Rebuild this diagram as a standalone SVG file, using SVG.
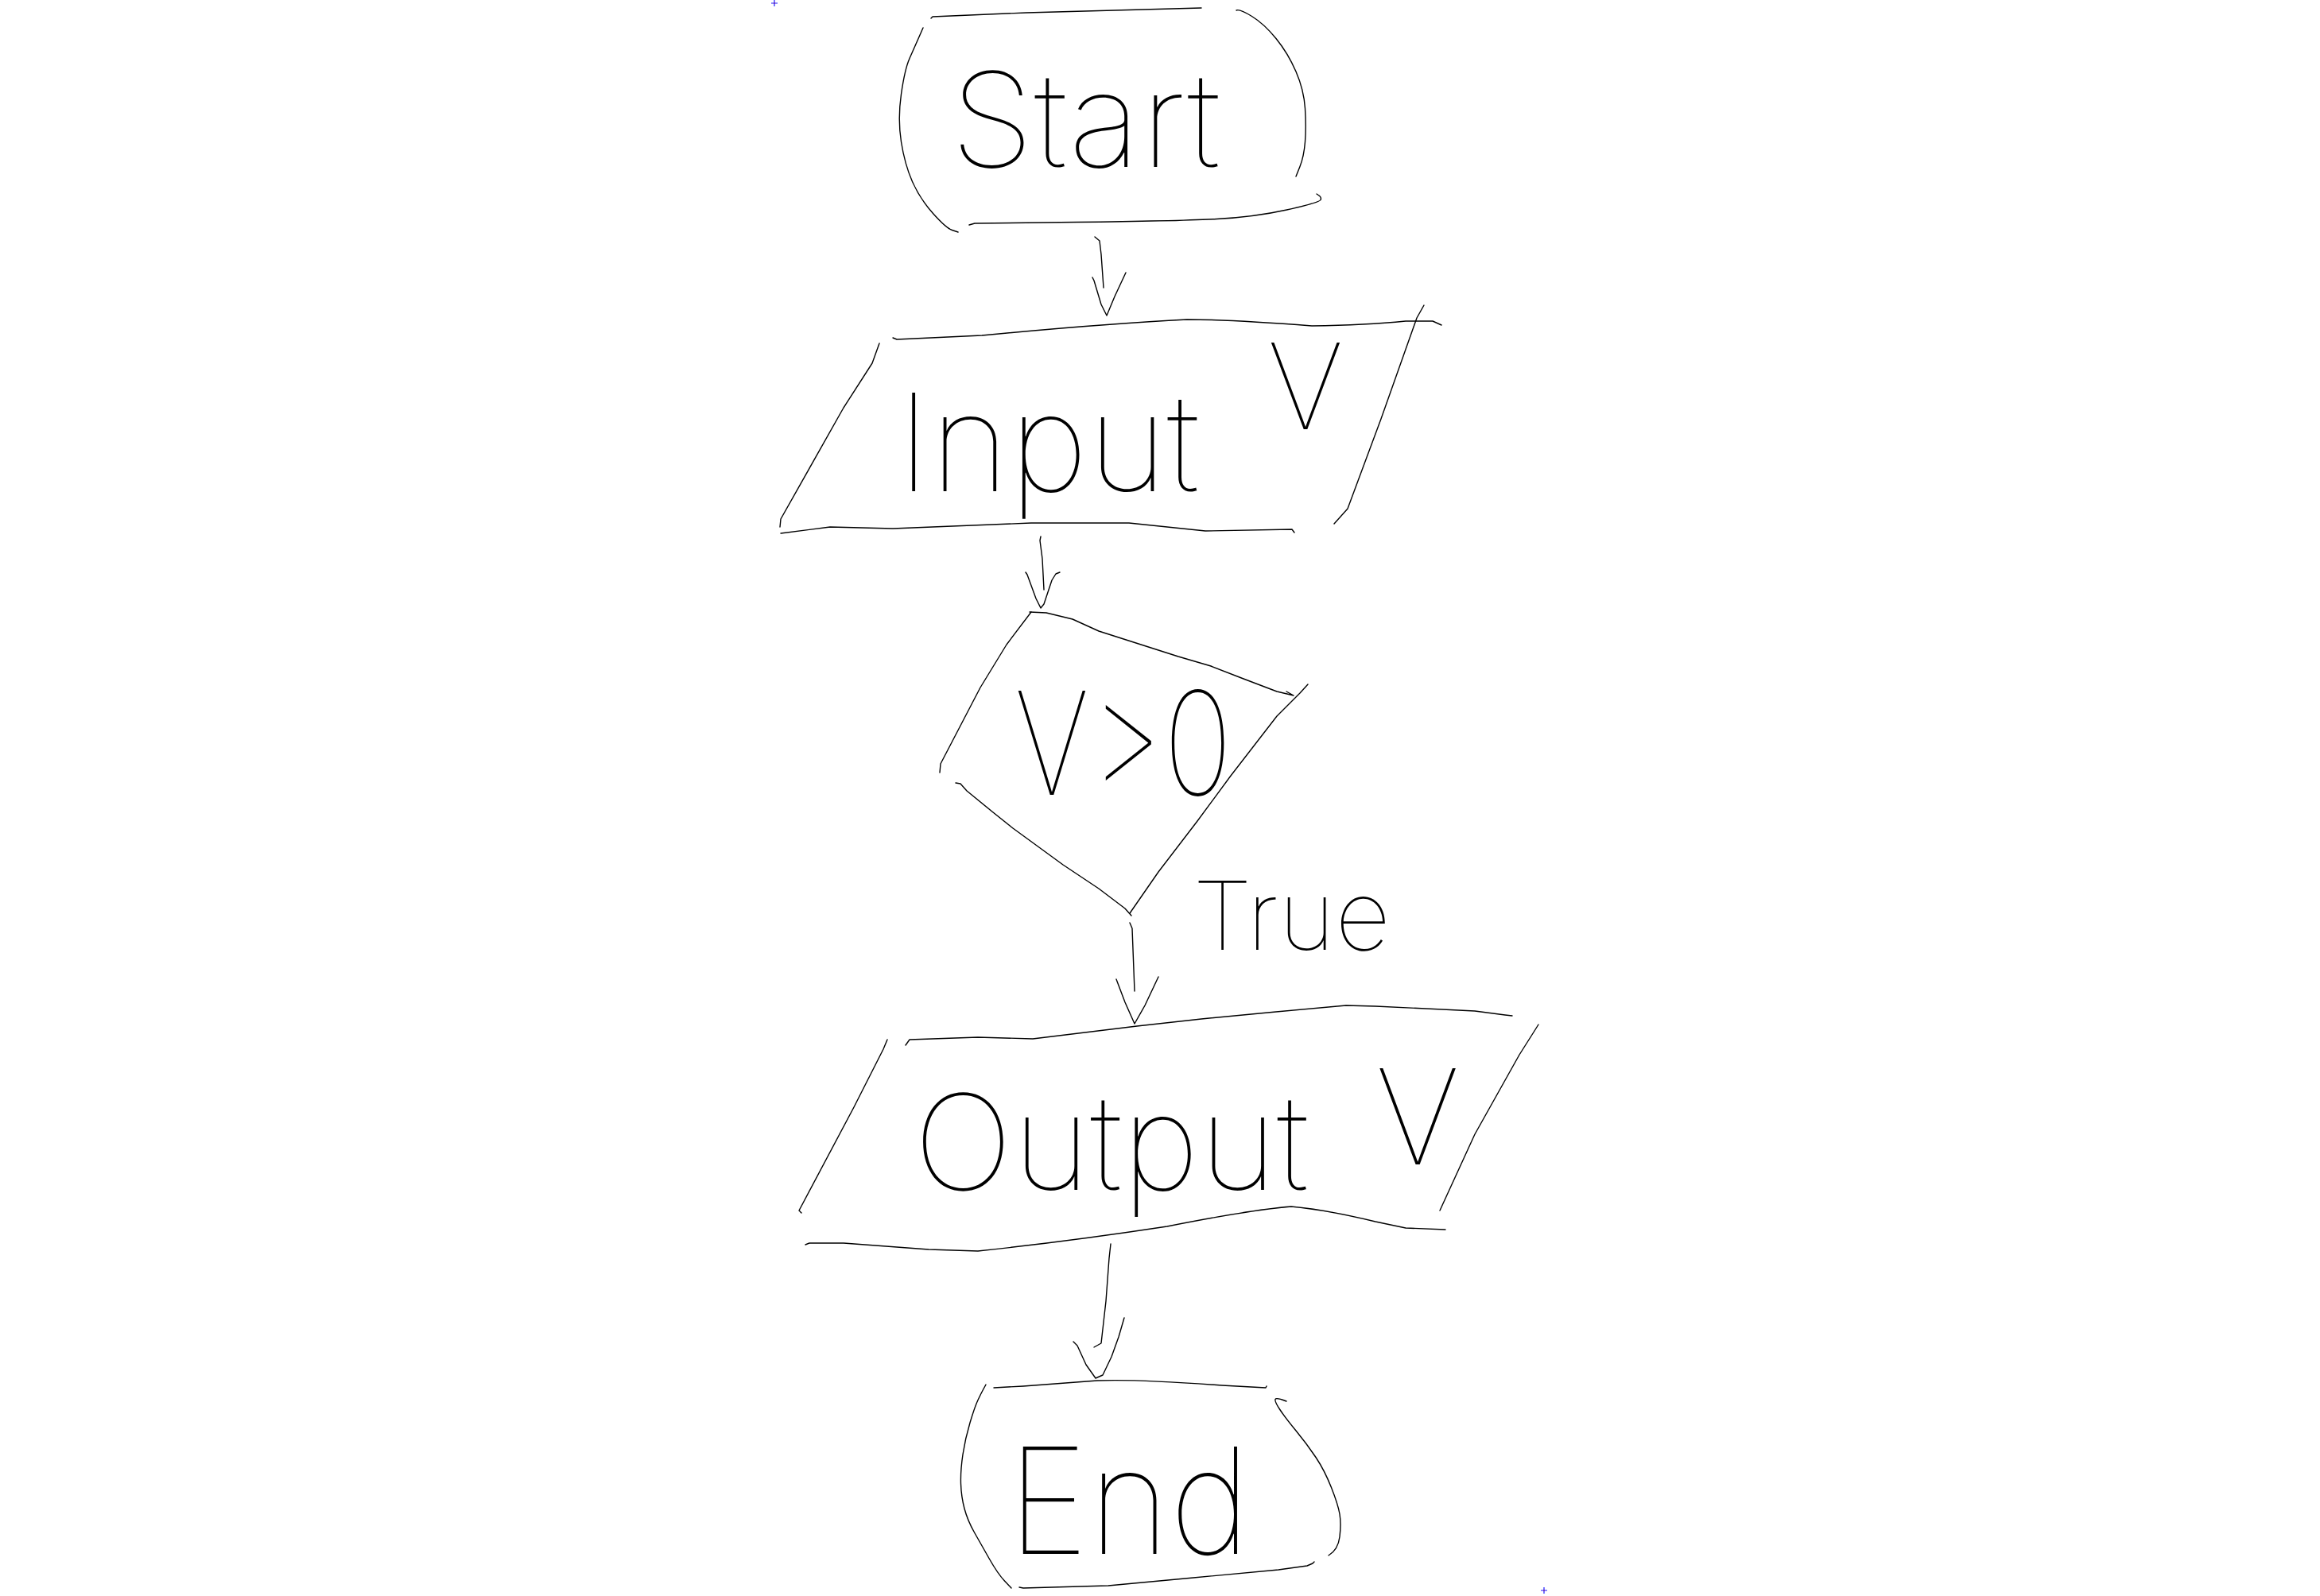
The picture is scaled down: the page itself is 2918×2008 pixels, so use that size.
<svg xmlns="http://www.w3.org/2000/svg" width="2918" height="2008" viewBox="0 0 2918 2008">
<style>
.s{fill:none;stroke:#000;stroke-width:1.4;stroke-linejoin:round;stroke-linecap:round}
.t{font-family:Inter,"Liberation Sans",sans-serif;font-weight:100;fill:#000}
.m{stroke:#1a1aff;stroke-width:1.2}
</style>
<rect width="2918" height="2008" fill="#fff"/>
<g id="marks">
<path class="m" d="M970 4h8M974 0v8"/><path class="m" d="M1938 2001h8M1942 1997v8"/>
<rect x="973.5" y="3.5" width="1" height="1" fill="#f00"/><rect x="1941.5" y="2000.5" width="1" height="1" fill="#f00"/>
</g>
<g id="start">
<path class="s" d="M1171 23L1173 21L1291 16L1511 10"/>
<path class="s" d="M1161 35L1155.5 47.5Q1150 60 1144 73.5Q1138 87 1133.5 118.5Q1129 150 1133.5 178.5Q1138 207 1147.5 228.5Q1157 250 1173.5 268.5Q1190 287 1197.5 289.5L1205 292"/>
<path class="s" d="M1219 283L1226 281L1354.5 279.5Q1483 278 1530.5 275.5Q1578 273 1618.5 264Q1659 255 1661 251.5Q1663 248 1656 244"/>
<path class="s" d="M1555 13Q1559 11 1574.5 20.5Q1590 30 1605 48.5Q1620 67 1630 90Q1640 113 1641.5 136.5Q1643 160 1641.5 178.5Q1640 197 1635 209.5L1630 222"/>
<text class="t" x="1195" y="210" font-size="165" textLength="340" lengthAdjust="spacingAndGlyphs">Start</text>
</g>
<g id="input">
<path class="s" d="M1123 425L1128 427L1235 422Q1392 407 1493 402Q1549 402 1650 410Q1718 409 1768 404L1802 404L1813 409"/>
<path class="s" d="M1106 432L1097 457L1061 513L982 653L981 663"/>
<path class="s" d="M982 671L1044 663L1123 665L1297 658L1420 658L1516 668L1625 666L1628 670"/>
<path class="s" d="M1791 384L1782 400L1737 527L1695 640L1678 659"/>
<text class="t" x="1128" y="618" font-size="170">Input<tspan x="1594" y="540" font-size="150">V</tspan></text>
</g>
<g id="decision">
<path class="s" d="M1295 770L1316 771L1349 779L1382 794L1482 826L1523 838L1564 854L1606 870L1627 875L1618 870"/>
<path class="s" d="M1297 770L1266 811L1233 865L1183 961L1182 972"/>
<path class="s" d="M1202 985L1208 986L1216 995L1249 1022L1274 1042L1337 1088L1382 1118L1415 1143L1423 1152"/>
<path class="s" d="M1645 861L1635 872L1606 901L1548 976L1506 1033L1457 1097L1421 1149"/>
<text class="t" x="1276" y="1000" font-size="180" textLength="274" lengthAdjust="spacingAndGlyphs">V&gt;0</text>
</g>
<g id="output">
<path class="s" d="M1139 1315L1144 1308L1230 1305L1299 1307L1430 1291L1511 1282L1605 1273L1693 1265L1730 1266L1855 1272L1893 1277L1902 1278"/>
<path class="s" d="M1116 1308L1111 1320L1074 1393L1005 1523L1008 1526"/>
<path class="s" d="M1013 1566L1018 1564L1061 1564L1168 1572L1230 1574Q1343 1562 1468 1543Q1574 1522 1624 1518Q1668 1522 1730 1537L1768 1545L1818 1547"/>
<path class="s" d="M1935 1289L1930 1297L1911 1327L1855 1427L1811 1523"/>
<text class="t" x="1149" y="1497" font-size="166"><tspan textLength="497" lengthAdjust="spacingAndGlyphs">Output</tspan><tspan x="1730" y="1465">V</tspan></text>
</g>
<g id="end">
<path class="s" d="M1250 1746L1287 1744L1380 1737Q1430 1735 1537 1743L1592 1746L1593 1744"/>
<path class="s" d="M1240 1742L1237 1747.5Q1234 1753 1230 1761.5Q1226 1770 1220 1790Q1214 1810 1211 1830Q1208 1850 1208.5 1866.5Q1209 1883 1213 1898Q1217 1913 1225.5 1928Q1234 1943 1244.5 1961.5Q1255 1980 1263.5 1989L1272 1998"/>
<path class="s" d="M1282 1997L1287 1998L1394 1995L1501 1985L1608 1975L1644 1970L1651 1967L1653 1965"/>
<path class="s" d="M1618 1763Q1605 1758 1604 1760.5Q1603 1763 1609.5 1773Q1616 1783 1630 1800Q1644 1817 1655 1833.5Q1666 1850 1674.5 1871.5Q1683 1893 1685 1905Q1687 1917 1685 1933.5Q1683 1950 1671 1957"/>
<text class="t" x="1267" y="1955" font-size="185" textLength="306" lengthAdjust="spacingAndGlyphs">End</text>
</g>
<g id="connectors">
<path class="s" d="M1377 298L1383 303L1385 320L1388 362"/>
<path class="s" d="M1374 349L1376 353L1385 383L1392 397L1402 373L1416 343"/>
<path class="s" d="M1309 675L1308 680L1311 703L1313 742"/>
<path class="s" d="M1290 720L1292 723L1303 753L1309 765L1313 760L1323 730L1328 722L1333 720"/>
<path class="s" d="M1421 1161L1424 1168L1427 1247"/>
<path class="s" d="M1404 1232L1415 1261L1427 1288L1440 1265L1457 1229"/>
<path class="s" d="M1397 1565L1395 1583L1391 1637L1385 1690L1376 1695"/>
<path class="s" d="M1350 1688L1355 1693L1366 1717L1378 1734L1387 1730L1398 1707L1407 1682L1414 1658"/>
<text class="t" x="1500" y="1195" font-size="120" textLength="249" lengthAdjust="spacingAndGlyphs">True</text>
</g>
</svg>
